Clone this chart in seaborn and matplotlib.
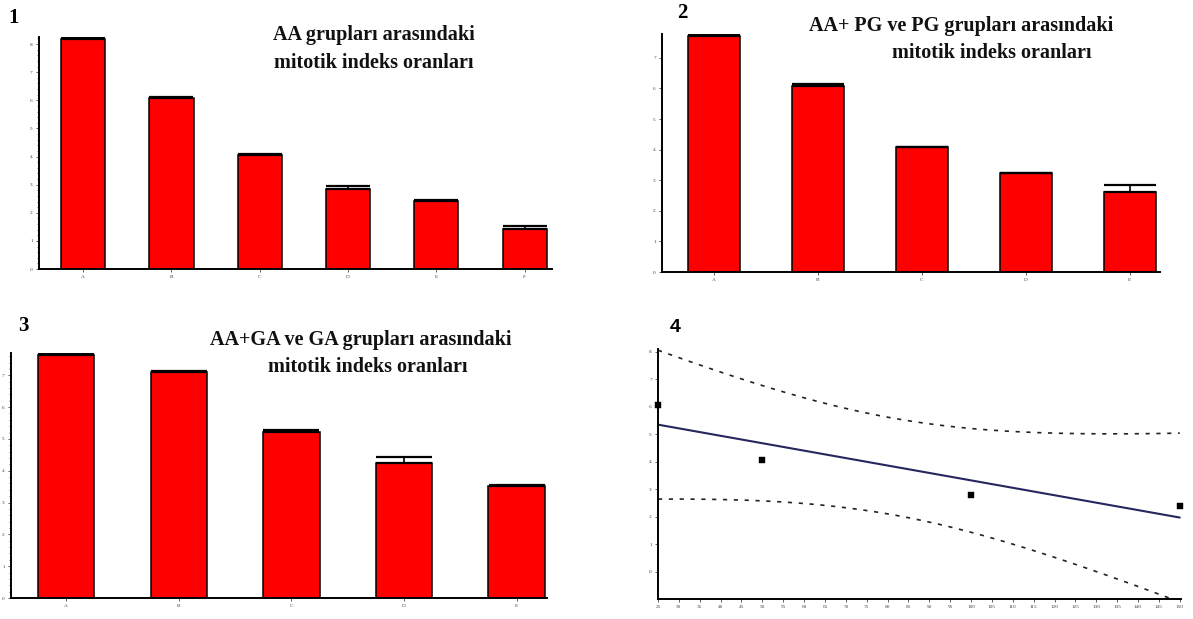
import numpy as np
import pandas as pd
import matplotlib
matplotlib.use("Agg")
import matplotlib.pyplot as plt
import seaborn as sns
from matplotlib.ticker import MultipleLocator

sns.set_theme(style="white")
plt.rcParams['font.family'] = ['Liberation Serif', 'DejaVu Serif']
plt.rcParams['text.color'] = 'black'

# ---------------- data ----------------
p1_cats = ["A", "B", "C", "D", "E", "F"]
p1_vals = [8.18, 6.08, 4.05, 2.85, 2.42, 1.42]
p1_errs = [0.04, 0.03, 0.05, 0.10, 0.04, 0.12]

p2_cats = ["A", "B", "C", "D", "E"]
p2_vals = [7.71, 6.08, 4.08, 3.23, 2.61]
p2_errs = [0.03, 0.06, 0.02, 0.02, 0.24]

p3_cats = ["A", "B", "C", "D", "E"]
p3_vals = [7.65, 7.10, 5.22, 4.25, 3.53]
p3_errs = [0.02, 0.02, 0.05, 0.19, 0.02]

p4_dose = [25, 50, 100, 150]
p4_index = [6.05, 4.05, 2.80, 2.40]
t_crit_95_df2 = 4.303

titles = {
    "1": ["AA grupları arasındaki", "mitotik indeks oranları"],
    "2": ["AA+ PG ve PG grupları arasındaki", "mitotik indeks oranları"],
    "3": ["AA+GA ve GA grupları arasındaki", "mitotik indeks oranları"],
}

W, H = 1193, 619
fig = plt.figure(figsize=(W / 100, H / 100), dpi=100)


def rect(left, top, right, bottom):
    return [left / W, 1 - bottom / H, (right - left) / W, (bottom - top) / H]


def style_axes(ax, fs):
    for s in ["top", "right"]:
        ax.spines[s].set_visible(False)
    for s in ["left", "bottom"]:
        ax.spines[s].set_color("black")
        ax.spines[s].set_linewidth(1.4)
    ax.tick_params(axis="both", which="major", direction="out", length=2.5,
                   width=0.6, labelsize=fs, colors="#444444", pad=2,
                   left=True, bottom=True)
    ax.tick_params(axis="y", which="minor", direction="out", length=1.5,
                   width=0.5, colors="#444444", left=True)
    ax.set_xlabel("")
    ax.set_ylabel("")
    ax.grid(False)


def bar_panel(r, cats, vals, errs, xlim, ylim, cap_px, minor):
    ax = fig.add_axes(r)
    df = pd.DataFrame({"grup": cats, "deger": vals})
    sns.barplot(data=df, x="grup", y="deger", color="#ff0000", saturation=1,
                edgecolor="black", linewidth=1.1, width=0.5, ax=ax)
    ax.errorbar(np.arange(len(cats)), vals,
                yerr=[np.zeros(len(errs)), errs], fmt="none", ecolor="black",
                elinewidth=1.2, capsize=cap_px * 0.72 / 2, capthick=1.6,
                zorder=5)
    ax.set_xlim(*xlim)
    ax.set_ylim(*ylim)
    ax.yaxis.set_major_locator(MultipleLocator(1))
    if minor:
        ax.yaxis.set_minor_locator(MultipleLocator(0.2))
    style_axes(ax, 3.8)
    return ax


# panel 1
bar_panel(rect(39, 37, 552, 269), p1_cats, p1_vals, p1_errs,
          (-0.5, 5.31), (0, 8.25), 44, True)
# panel 2
bar_panel(rect(662, 34, 1160, 272), p2_cats, p2_vals, p2_errs,
          (-0.5, 4.29), (0, 7.78), 53, False)
# panel 3
bar_panel(rect(11, 353, 547, 598), p3_cats, p3_vals, p3_errs,
          (-0.49, 4.27), (0, 7.7), 56, True)

# panel 4: regression with 95% confidence band
ax4 = fig.add_axes(rect(658, 349, 1181, 599))
df4 = pd.DataFrame({"doz": p4_dose, "indeks": p4_index})
x = np.array(p4_dose, dtype=float)
y = np.array(p4_index, dtype=float)
slope, icpt = np.polyfit(x, y, 1)
resid = y - (slope * x + icpt)
s = np.sqrt(np.sum(resid ** 2) / (len(x) - 2))
xg = np.linspace(x.min(), x.max(), 200)
yg = slope * xg + icpt
half = t_crit_95_df2 * s * np.sqrt(1 / len(x) + (xg - x.mean()) ** 2 / np.sum((x - x.mean()) ** 2))
band = pd.DataFrame({"doz": xg, "ust": yg + half, "alt": yg - half})

sns.regplot(data=df4, x="doz", y="indeks", scatter=False, ci=None,
            line_kws={"color": "#26265e", "linewidth": 1.5}, ax=ax4)
sns.lineplot(data=band, x="doz", y="ust", color="#222222", linewidth=1.2,
             linestyle=(0, (2.5, 4)), ax=ax4)
sns.lineplot(data=band, x="doz", y="alt", color="#222222", linewidth=1.2,
             linestyle=(0, (2.5, 4)), ax=ax4)
sns.scatterplot(data=df4, x="doz", y="indeks", marker="s", s=14,
                color="black", edgecolor="black", ax=ax4, zorder=6,
                clip_on=False)
ax4.set_xlim(25, 150.3)
ax4.set_ylim(-1.0, 8.1)
ax4.xaxis.set_major_locator(MultipleLocator(5))
ax4.set_yticks(range(0, 9))
style_axes(ax4, 3.8)

# panel numbers
fig.text(14 / W, 1 - 18 / H, "1", fontsize=15, fontweight="bold",
         ha="center", va="center", color="black")
fig.text(682 / W, 1 - 13 / H, "2", fontsize=15, fontweight="bold",
         ha="center", va="center", color="black")
fig.text(23 / W, 1 - 326 / H, "3", fontsize=15, fontweight="bold",
         ha="center", va="center", color="black")
fig.text(675 / W, 1 - 327 / H, "4", fontsize=14, fontweight="bold",
         ha="center", va="center", color="black",
         family=["Liberation Sans", "DejaVu Sans"])

# titles
title_pos = {
    "1": [(374, 35), (374, 63)],
    "2": [(961, 26), (992, 53)],
    "3": [(361, 340), (368, 367)],
}
for k, lines in titles.items():
    for (tx, ty), line in zip(title_pos[k], lines):
        fig.text(tx / W, 1 - ty / H, line, fontsize=14.5, fontweight="bold",
                 ha="center", va="center", color="#111111")

fig.savefig("out.png", dpi=100)
